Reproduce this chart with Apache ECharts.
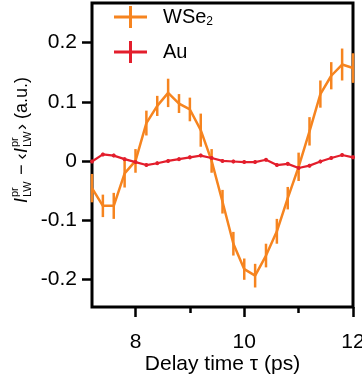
<!DOCTYPE html>
<html>
<head>
<meta charset="utf-8">
<script src="https://cdn.jsdelivr.net/npm/echarts@6/dist/echarts.min.js"></script>
<style>
html,body{margin:0;padding:0;background:#fff;}
#chart{width:362px;height:379px;}
</style>
</head>
<body>
<div id="chart"></div>
<script>
var delays = [7.2,7.4,7.6,7.8,8.0,8.2,8.4,8.6,8.8,9.0,9.2,9.4,9.6,9.8,10.0,10.2,10.4,10.6,10.8,11.0,11.2,11.4,11.6,11.8,12.0];
var wse2 = [-0.046,-0.076,-0.076,-0.021,0.0,0.064,0.093,0.115,0.097,0.087,0.052,0.0,-0.069,-0.140,-0.183,-0.194,-0.160,-0.119,-0.063,-0.010,0.050,0.113,0.144,0.163,0.157];
var wse2Err = [0.024,0.019,0.022,0.024,0.020,0.021,0.017,0.024,0.016,0.020,0.028,0.020,0.020,0.020,0.018,0.020,0.020,0.021,0.019,0.024,0.024,0.023,0.023,0.027,0.025];
var au = [-0.001,0.011,0.009,0.003,-0.002,-0.007,-0.004,0.0,0.003,0.006,0.009,0.005,0.0,-0.001,-0.002,-0.002,0.002,-0.007,-0.005,-0.012,-0.008,-0.001,0.005,0.010,0.006];
var auErr = [0.003,0.003,0.003,0.003,0.003,0.003,0.003,0.003,0.003,0.003,0.003,0.003,0.003,0.003,0.003,0.003,0.003,0.003,0.003,0.003,0.003,0.003,0.003,0.003,0.003];
var xLabels = [8,10,12];
var xMinorTicks = [9,11];
var yLabels = [-0.2,-0.1,0,0.1,0.2];
var seriesNames = ['WSe2','Au'];

var ORANGE = '#F6841F';
var RED = '#E31E2C';
var FONT = 'Liberation Sans, Arial, sans-serif';

function pairs(xs, ys){ return xs.map(function(x,i){ return [x, ys[i]]; }); }
function errData(xs, ys, es){ return xs.map(function(x,i){ return [x, ys[i]-es[i], ys[i]+es[i]]; }); }
function errSeries(name, data, color, width){
  return {
    name: name, type: 'custom', data: data, clip: false, z: 3,
    renderItem: function(params, api){
      var p1 = api.coord([api.value(0), api.value(1)]);
      var p2 = api.coord([api.value(0), api.value(2)]);
      return {type:'line', shape:{x1:p1[0],y1:p1[1],x2:p2[0],y2:p2[1]}, style:{stroke:color, lineWidth:width}};
    }
  };
}

var chart = echarts.init(document.getElementById('chart'), null, {renderer:'canvas'});
var crossIcon = 'path://M0,9.5h33v3h-33z M15,0h3v22h-3z';

// y-axis title built from text pieces (rotated)
var ts = 18, ss = 11;
var pieces = [];
var cx = 0;
function addText(t, size, dx, dy, italic){
  pieces.push({type:'text', x: cx + dx, y: dy, style:{text:t, font:(italic?'italic ':'')+size+'px '+FONT, fill:'#000', textVerticalAlign:'middle', textAlign:'left'}});
}
addText('I', ts, 0, 0, true); cx += 6;
addText('pr', ss, 0, -7, false); addText('LW', ss, 0, 6, false); cx += 17;
addText(' \u2212 \u2039', ts, 0, 0, false); cx += 27;
addText('I', ts, 0, 0, true); cx += 6;
addText('pr', ss, 0, -7, false); addText('LW', ss, 0, 6, false); cx += 17;
addText('\u203a (a.u.)', ts, 0, 0, false);

var option = {
  animation: false,
  grid: {left: 92, right: 9, top: 3, bottom: 72, show: true, borderColor: '#000', borderWidth: 3,
         containLabel: false, outerBoundsMode: 'none'},
  legend: {
    orient: 'vertical', left: 114, top: 6, padding: 0, itemWidth: 33, itemHeight: 22, itemGap: 13,
    data: [{name:'WSe2', icon: crossIcon}, {name:'Au', icon: crossIcon}],
    formatter: function(n){ return n === 'WSe2' ? '{g| }WSe{sub|2}' : '{g| }' + n; },
    textStyle: {fontFamily: FONT, fontSize: 20, color: '#000',
      rich: {g: {width: 11, fontSize: 20}, sub: {fontFamily: FONT, fontSize: 12, color:'#000', padding:[10,0,0,0]}}}
  },
  xAxis: [{
    type: 'value', min: 7.2, max: 12,
    axisLine: {show: false, onZero: false},
    splitLine: {show: false},
    axisTick: {show: true, length: 10, lineStyle: {color:'#000', width: 2.5}, customValues: xLabels},
    axisLabel: {customValues: xLabels, color:'#000', fontFamily: FONT, fontSize: 21, margin: 25},
    name: 'Delay time \u03c4 (ps)', nameLocation: 'middle', nameGap: 47, nameMoveOverlap: false,
    nameTextStyle: {fontFamily: FONT, fontSize: 21, color: '#000'}
  },{
    type: 'value', min: 7.2, max: 12, position: 'bottom',
    axisLine: {show: false, onZero: false}, splitLine: {show: false},
    axisTick: {show: true, inside: false, length: 6, lineStyle: {color:'#000', width: 2.5}, customValues: xMinorTicks},
    axisLabel: {show: false}
  }],
  yAxis: {
    type: 'value', min: -0.247, max: 0.267,
    axisLine: {show: false, onZero: false}, splitLine: {show: false},
    axisTick: {show: true, length: 10, lineStyle: {color:'#000', width: 2.5}, customValues: yLabels},
    axisLabel: {customValues: yLabels, color:'#000', fontFamily: FONT, fontSize: 21, margin: 15,
      formatter: function(v){ return Math.abs(v) < 1e-9 ? '0' : (v < 0 ? '-' : '') + Math.abs(v).toFixed(1); }}
  },
  graphic: [{type:'group', x: 22, y: 203, rotation: Math.PI/2, children: pieces}],
  series: [
    {name: 'WSe2', type: 'line', data: pairs(delays, wse2), color: ORANGE, symbol: 'none', clip: false, z: 4,
     lineStyle: {color: ORANGE, width: 2.5}},
    errSeries('WSe2 err', errData(delays, wse2, wse2Err), ORANGE, 2.5),
    {name: 'Au', type: 'line', data: pairs(delays, au), color: RED, symbol: 'circle', symbolSize: 4, clip: false, z: 5,
     itemStyle: {color: RED}, lineStyle: {color: RED, width: 2.2}},
    errSeries('Au err', errData(delays, au, auErr), RED, 1.5)
  ]
};
chart.setOption(option);
</script>
</body>
</html>
